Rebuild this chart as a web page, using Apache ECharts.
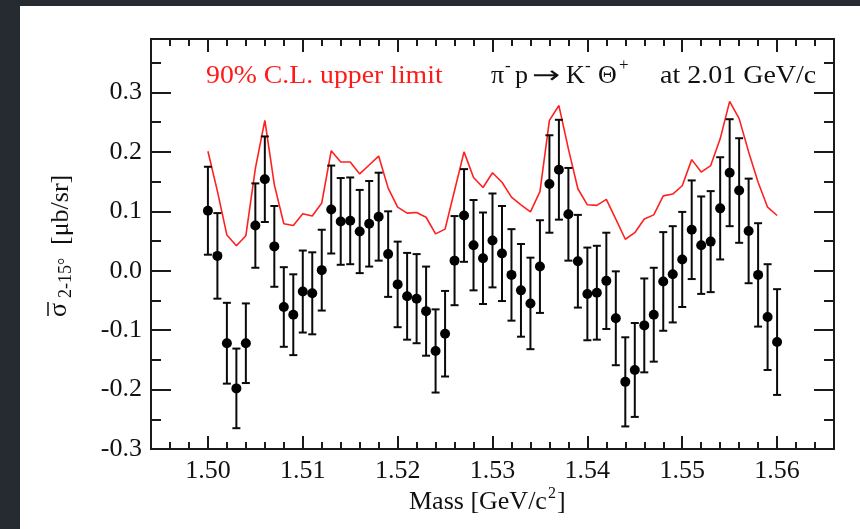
<!DOCTYPE html>
<html><head><meta charset="utf-8">
<script src="https://cdn.jsdelivr.net/npm/echarts@6/dist/echarts.min.js"></script>
<style>
html,body{margin:0;padding:0;background:#262b32;width:860px;height:529px;overflow:hidden;}
#paper{position:absolute;left:20px;top:6px;width:840px;height:523px;background:#fff;}
#c{position:absolute;left:0;top:0;width:860px;height:529px;}
</style>
</head><body><div id="paper"></div><div id="c"></div>
<script>
// ---- data ----
const mass = [1.500,1.501,1.502,1.503,1.504,1.505,1.506,1.507,1.508,1.509,
  1.510,1.511,1.512,1.513,1.514,1.515,1.516,1.517,1.518,1.519,
  1.520,1.521,1.522,1.523,1.524,1.525,1.526,1.527,1.528,1.529,
  1.530,1.531,1.532,1.533,1.534,1.535,1.536,1.537,1.538,1.539,
  1.540,1.541,1.542,1.543,1.544,1.545,1.546,1.547,1.548,1.549,
  1.550,1.551,1.552,1.553,1.554,1.555,1.556,1.557,1.558,1.559,1.560];
const sigma = [0.101,0.025,-0.122,-0.198,-0.122,0.076,0.154,0.041,-0.061,-0.074,
  -0.035,-0.038,0.001,0.103,0.083,0.084,0.066,0.079,0.091,0.028,
  -0.023,-0.043,-0.047,-0.068,-0.135,-0.106,0.017,0.093,0.043,0.021,
  0.051,0.029,-0.007,-0.033,-0.055,0.007,0.146,0.170,0.095,0.016,
  -0.039,-0.037,-0.017,-0.080,-0.187,-0.167,-0.092,-0.074,-0.018,-0.006,
  0.019,0.069,0.043,0.049,0.105,0.165,0.135,0.067,-0.007,-0.078,-0.120];
const err = [0.074,0.072,0.068,0.067,0.067,0.071,0.072,0.068,0.067,0.068,
  0.069,0.069,0.068,0.074,0.073,0.073,0.070,0.072,0.074,0.072,
  0.072,0.073,0.075,0.075,0.070,0.072,0.075,0.078,0.076,0.077,
  0.079,0.080,0.077,0.078,0.077,0.078,0.082,0.084,0.078,0.078,
  0.078,0.079,0.081,0.079,0.075,0.079,0.079,0.079,0.083,0.081,
  0.080,0.083,0.082,0.085,0.086,0.090,0.088,0.088,0.087,0.089,0.089];
const upperLimit = [0.201,0.134,0.060,0.042,0.059,0.172,0.253,0.145,0.079,0.076,
  0.096,0.092,0.114,0.202,0.183,0.183,0.163,0.178,0.193,0.139,
  0.107,0.097,0.098,0.090,0.062,0.070,0.135,0.200,0.157,0.140,
  0.165,0.149,0.124,0.111,0.099,0.133,0.253,0.278,0.205,0.138,
  0.111,0.110,0.120,0.087,0.053,0.064,0.087,0.094,0.126,0.129,
  0.143,0.187,0.166,0.177,0.222,0.285,0.256,0.200,0.149,0.107,0.093];
const xMajorTicks = [1.50,1.51,1.52,1.53,1.54,1.55,1.56];
const xMinorTicks = [1.496,1.498,1.502,1.504,1.506,1.508,1.512,1.514,1.516,1.518,
  1.522,1.524,1.526,1.528,1.532,1.534,1.536,1.538,1.542,1.544,1.546,1.548,
  1.552,1.554,1.556,1.558,1.562,1.564];
const yMajorTicks = [-0.3,-0.2,-0.1,0.0,0.1,0.2,0.3];
const yMinorTicks = [-0.25,-0.15,-0.05,0.05,0.15,0.25,0.35];
const xRange = [1.494, 1.566];
const yRange = [-0.3, 0.39];

// ---- chart ----
const serif = '"Liberation Serif","Times New Roman",serif';
const frame = '#1a1a1a';
const chart = echarts.init(document.getElementById('c'));

function xAx(pos, ticks, len, showLabel) {
  return {type:'value', min:xRange[0], max:xRange[1], position:pos,
    axisLine:{show:true, onZero:false, lineStyle:{color:frame, width:2}},
    axisTick:{show:true, inside:true, length:len, customValues:ticks, lineStyle:{color:frame, width:2}},
    axisLabel:{show:showLabel, customValues:ticks, margin:9,
      formatter:v=>v.toFixed(2), fontFamily:serif, fontSize:26, color:'#111'},
    splitLine:{show:false}};
}
function yAx(pos, ticks, len, showLabel) {
  return {type:'value', min:yRange[0], max:yRange[1], position:pos,
    axisLine:{show:true, onZero:false, lineStyle:{color:frame, width:2}},
    axisTick:{show:true, inside:true, length:len, customValues:ticks, lineStyle:{color:frame, width:2}},
    axisLabel:{show:showLabel, customValues:ticks, margin:9,
      formatter:v=>v.toFixed(1), fontFamily:serif, fontSize:26, color:'#111'},
    splitLine:{show:false}};
}

const errData = mass.map((m,i)=>[m, sigma[i]-err[i], sigma[i]+err[i]]);
const txt = (x, y, text, font, extra) => Object.assign({type:'text', x:x, y:y,
  style:{text:text, fill:'#111', font:font, textAlign:'left', textVerticalAlign:'middle'}}, extra || {});

chart.setOption({
  animation:false,
  grid:{left:151, right:26, top:39, height:410, containLabel:false},
  xAxis:[xAx('bottom', xMajorTicks, 13, true), xAx('bottom', xMinorTicks, 7, false),
         xAx('top', xMajorTicks, 13, false), xAx('top', xMinorTicks, 7, false)],
  yAxis:[yAx('left', yMajorTicks, 20, true), yAx('left', yMinorTicks, 10, false),
         yAx('right', yMajorTicks, 20, false), yAx('right', yMinorTicks, 10, false)],
  series:[
    {type:'line', xAxisIndex:0, yAxisIndex:0, data:mass.map((m,i)=>[m, upperLimit[i]]),
     symbol:'none', lineStyle:{color:'#ff2020', width:1.6}, z:3},
    {type:'custom', xAxisIndex:0, yAxisIndex:0, data:errData, z:4,
     renderItem:(params, api)=>{
       const x = api.value(0);
       const a = api.coord([x, api.value(1)]), b = api.coord([x, api.value(2)]);
       const w = 4, st = {stroke:'#0a0a0a', lineWidth:2};
       return {type:'group', children:[
         {type:'line', shape:{x1:a[0],y1:a[1],x2:b[0],y2:b[1]}, style:st},
         {type:'line', shape:{x1:a[0]-w,y1:a[1],x2:a[0]+w,y2:a[1]}, style:st},
         {type:'line', shape:{x1:b[0]-w,y1:b[1],x2:b[0]+w,y2:b[1]}, style:st}
       ]};
     }},
    {type:'scatter', xAxisIndex:0, yAxisIndex:0, data:mass.map((m,i)=>[m, sigma[i]]),
     symbol:'circle', symbolSize:10, itemStyle:{color:'#000', opacity:1}, z:5}
  ],
  graphic:[
    {type:'text', x:206, y:76, scaleX:1.11, style:{text:'90% C.L. upper limit', fill:'#ff1a1a',
      font:'25px '+serif, textAlign:'left', textVerticalAlign:'middle'}},
    txt(491, 76, 'π', '26px '+serif),
    txt(505, 67, '-', '17px '+serif),
    txt(515, 76, 'p', '26px '+serif),
    txt(532, 77, '→', '24px "DejaVu Sans"', {scaleX:1.4}),
    txt(566, 76, 'K', '26px '+serif),
    txt(585, 67, '-', '17px '+serif),
    txt(598, 76, 'Θ', '26px '+serif),
    txt(619, 66, '+', '17px '+serif),
    txt(660, 76, 'at 2.01 GeV/c', '25px '+serif, {scaleX:1.12}),
    txt(409, 502, 'Mass [GeV/c', '26px '+serif),
    txt(548, 494, '2', '16px '+serif),
    txt(557, 502, ']', '26px '+serif),
    {type:'group', x:61, y:245, rotation:Math.PI/2, children:[
      txt(-72, -2, 'σ', '26px '+serif),
      {type:'line', shape:{x1:-71, y1:-13, x2:-57, y2:-13}, style:{stroke:'#111', lineWidth:1.5}},
      txt(-53, 5, '2-15°', '18px '+serif),
      txt(0, 0, '[μb/sr]', '26px '+serif)
    ]}
  ]
});
</script>
</body></html>
